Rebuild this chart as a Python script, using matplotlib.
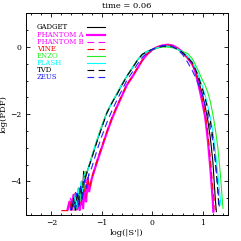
import matplotlib
matplotlib.use('Agg')
import matplotlib.pyplot as plt
from matplotlib.ticker import MultipleLocator

plt.rcParams['font.family'] = 'DejaVu Serif'

# DATA: log(|S'|) vs log(PDF), time = 0.06
gadget_x = [-1.62, -1.58, -1.55, -1.52, -1.49, -1.46, -1.43, -1.40, -1.38, -1.36, -1.34, -1.30, -1.20, -1.10,
            -1.00, -0.90, -0.80, -0.70, -0.60, -0.50, -0.40, -0.30, -0.20, -0.10, 0.00, 0.10, 0.20, 0.30, 0.40,
            0.50, 0.60, 0.70, 0.80, 0.90, 1.00, 1.05, 1.10, 1.15, 1.20, 1.25, 1.27]
gadget_y = [-4.85, -4.60, -4.85, -4.40, -4.85, -4.20, -4.60, -4.00, -4.40, -3.70, -4.00, -3.75, -3.30, -2.82,
            -2.38, -1.95, -1.66, -1.40, -1.12, -0.86, -0.64, -0.40, -0.22, -0.13, -0.07, -0.02, 0.02, 0.03, 0.01,
            -0.06, -0.17, -0.33, -0.52, -0.90, -1.45, -1.78, -2.18, -2.70, -3.40, -4.55, -4.90]

phantom_a_x = [-1.68, -1.64, -1.60, -1.56, -1.52, -1.48, -1.44, -1.40, -1.37, -1.34, -1.31, -1.28, -1.25, -1.20,
               -1.10, -1.00, -0.90, -0.80, -0.70, -0.60, -0.50, -0.40, -0.30, -0.20, -0.10, 0.00, 0.10, 0.20,
               0.30, 0.40, 0.50, 0.60, 0.70, 0.80, 0.85, 0.90, 0.95, 1.00, 1.05, 1.10, 1.15, 1.20, 1.21]
phantom_a_y = [-4.85, -4.60, -4.85, -4.40, -4.85, -4.50, -4.85, -4.30, -4.80, -4.10, -4.60, -3.90, -4.30, -3.93,
               -3.45, -3.00, -2.55, -2.14, -1.78, -1.45, -1.12, -0.90, -0.65, -0.40, -0.21, -0.08, 0.00, 0.05,
               0.07, 0.05, -0.03, -0.15, -0.32, -0.53, -0.72, -1.02, -1.35, -1.70, -2.10, -2.75, -3.60, -4.60, -4.90]

phantom_b_x = [-1.66, -1.62, -1.58, -1.54, -1.50, -1.46, -1.42, -1.38, -1.35, -1.32, -1.29, -1.26, -1.20, -1.10,
               -1.00, -0.90, -0.80, -0.70, -0.60, -0.50, -0.40, -0.30, -0.20, -0.10, 0.00, 0.10, 0.20, 0.30,
               0.40, 0.50, 0.60, 0.70, 0.80, 0.90, 1.00, 1.05, 1.10, 1.15, 1.20, 1.22]
phantom_b_y = [-4.85, -4.50, -4.85, -4.30, -4.70, -4.20, -4.85, -4.10, -4.60, -3.95, -4.40, -3.80, -3.88, -3.40,
               -2.95, -2.52, -2.10, -1.75, -1.42, -1.10, -0.88, -0.63, -0.39, -0.20, -0.08, 0.00, 0.05, 0.06,
               0.04, -0.03, -0.15, -0.31, -0.52, -0.98, -1.65, -2.05, -2.65, -3.50, -4.50, -4.90]

vine_x = [-1.80, -1.63, -1.60, -1.56, -1.52, -1.48, -1.44, -1.40, -1.36, -1.32, -1.28, -1.24, -1.20, -1.10,
          -1.00, -0.90, -0.80, -0.70, -0.60, -0.50, -0.40, -0.30, -0.20, -0.10, 0.00, 0.10, 0.20, 0.30, 0.40,
          0.50, 0.60, 0.70, 0.80, 0.90, 1.00, 1.05, 1.10, 1.15, 1.20, 1.25]
vine_y = [-4.87, -4.87, -4.50, -4.85, -4.30, -4.80, -4.20, -4.70, -4.00, -4.50, -3.90, -4.20, -3.90, -3.42,
          -2.97, -2.53, -2.12, -1.76, -1.43, -1.11, -0.89, -0.64, -0.40, -0.21, -0.08, 0.00, 0.04, 0.06, 0.04,
          -0.04, -0.16, -0.32, -0.52, -0.96, -1.60, -1.98, -2.55, -3.30, -4.20, -4.85]

enzo_x = [-1.55, -1.52, -1.49, -1.46, -1.43, -1.40, -1.36, -1.33, -1.30, -1.20, -1.10, -1.00, -0.90, -0.80,
          -0.70, -0.60, -0.50, -0.40, -0.30, -0.20, -0.10, 0.00, 0.10, 0.20, 0.30, 0.40, 0.50, 0.60, 0.70,
          0.80, 0.90, 1.00, 1.05, 1.10, 1.15, 1.20, 1.25, 1.30, 1.35, 1.40]
enzo_y = [-4.85, -4.50, -4.80, -4.20, -4.60, -4.00, -4.30, -3.70, -3.80, -3.25, -2.78, -2.33, -1.95, -1.65,
          -1.38, -1.10, -0.86, -0.62, -0.40, -0.23, -0.14, -0.08, -0.03, 0.00, 0.00, -0.02, -0.07, -0.13, -0.19,
          -0.36, -0.67, -1.00, -1.14, -1.35, -1.62, -2.00, -2.45, -3.00, -3.80, -4.80]

flash_x = [-1.56, -1.53, -1.50, -1.47, -1.44, -1.41, -1.38, -1.35, -1.30, -1.20, -1.10, -1.00, -0.90, -0.80,
           -0.70, -0.60, -0.50, -0.40, -0.30, -0.20, -0.10, 0.00, 0.10, 0.20, 0.30, 0.40, 0.50, 0.60, 0.70,
           0.80, 0.90, 1.00, 1.05, 1.10, 1.15, 1.20, 1.25, 1.30, 1.36]
flash_y = [-4.85, -4.40, -4.80, -4.20, -4.60, -4.00, -4.40, -3.80, -3.78, -3.28, -2.80, -2.36, -1.96, -1.66,
           -1.39, -1.11, -0.85, -0.63, -0.40, -0.22, -0.13, -0.07, -0.02, 0.02, 0.03, 0.01, -0.06, -0.15, -0.27,
           -0.45, -0.78, -1.20, -1.45, -1.75, -2.10, -2.50, -3.10, -3.80, -4.70]

tvd_x = [-1.60, -1.56, -1.52, -1.48, -1.45, -1.42, -1.39, -1.36, -1.32, -1.20, -1.10, -1.00, -0.90, -0.80,
         -0.70, -0.60, -0.50, -0.40, -0.30, -0.20, -0.10, 0.00, 0.10, 0.20, 0.30, 0.40, 0.50, 0.60, 0.70,
         0.80, 0.90, 1.00, 1.05, 1.10, 1.15, 1.20, 1.25, 1.30, 1.32]
tvd_y = [-4.85, -4.50, -4.85, -4.30, -4.70, -4.10, -4.50, -3.90, -3.85, -3.32, -2.84, -2.40, -1.97, -1.67,
         -1.41, -1.13, -0.86, -0.64, -0.41, -0.22, -0.13, -0.07, -0.02, 0.02, 0.03, 0.01, -0.06, -0.16, -0.30,
         -0.48, -0.82, -1.28, -1.55, -1.85, -2.20, -2.70, -3.40, -4.30, -4.80]

zeus_x = [-1.62, -1.58, -1.54, -1.50, -1.46, -1.42, -1.38, -1.34, -1.30, -1.26, -1.20, -1.10, -1.00, -0.90,
          -0.80, -0.70, -0.60, -0.50, -0.40, -0.30, -0.20, -0.10, 0.00, 0.10, 0.20, 0.30, 0.40, 0.50, 0.60,
          0.70, 0.80, 0.90, 1.00, 1.10, 1.20, 1.25, 1.30, 1.33]
zeus_y = [-4.85, -4.55, -4.85, -4.35, -4.75, -4.15, -4.55, -3.95, -4.20, -3.80, -3.60, -3.10, -2.66, -2.25,
          -1.90, -1.58, -1.28, -0.98, -0.76, -0.52, -0.31, -0.17, -0.07, 0.00, 0.04, 0.05, 0.02, -0.08, -0.22,
          -0.45, -0.72, -1.05, -1.45, -2.05, -2.80, -3.40, -4.20, -4.80]

names = ['GADGET', 'PHANTOM A', 'PHANTOM B', 'VINE', 'ENZO', 'FLASH', 'TVD', 'ZEUS']
colors = ['black', '#ff00ff', '#ff00ff', '#ff0000', '#22ee22', '#00ffff', 'black', '#2222ff']
styles = ['-', '-', '--', '--', '-', '-', '--', '--']
widths = [0.8, 1.6, 0.8, 0.8, 0.8, 0.8, 0.8, 0.8]
xs = [gadget_x, phantom_a_x, phantom_b_x, vine_x, enzo_x, flash_x, tvd_x, zeus_x]
ys = [gadget_y, phantom_a_y, phantom_b_y, vine_y, enzo_y, flash_y, tvd_y, zeus_y]

fig = plt.figure(figsize=(2.41, 2.41), dpi=100)
ax = fig.add_axes([0.108, 0.108, 0.838, 0.836])

for i in range(len(names)):
    ln, = ax.plot(xs[i], ys[i], color=colors[i], linestyle=styles[i], lw=widths[i])
    if styles[i] == '--':
        ln.set_dashes((6, 4))

# LEGEND DRAWN BY HAND (TEXT + SHORT LINE SAMPLE)
for i in range(len(names)):
    yy = 0.931 - 0.0354 * i
    ax.text(0.053, yy, names[i], color=colors[i], fontsize=5, transform=ax.transAxes,
            va='center', ha='left')
    ln, = ax.plot([0.302, 0.391], [yy, yy], color=colors[i], linestyle=styles[i],
                  lw=widths[i], transform=ax.transAxes)
    if styles[i] == '--':
        ln.set_dashes((6, 4))

ax.set_xlim(-2.5, 1.5)
ax.set_ylim(-5, 1)
ax.xaxis.set_major_locator(MultipleLocator(1))
ax.xaxis.set_minor_locator(MultipleLocator(0.2))
ax.yaxis.set_major_locator(MultipleLocator(2))
ax.yaxis.set_minor_locator(MultipleLocator(0.5))
ax.tick_params(which='both', direction='in', top=True, right=True, labelsize=5.5, pad=3, width=0.6)
ax.tick_params(which='major', length=3)
ax.tick_params(which='minor', length=1.5)
for s in ax.spines.values():
    s.set_linewidth(0.7)

ax.set_title('time = 0.06', fontsize=6, pad=4)
ax.set_xlabel("log(|S'|)", fontsize=6, labelpad=1)
ax.set_ylabel('log(PDF)', fontsize=6, labelpad=2)

fig.savefig('out.png', dpi=100)
